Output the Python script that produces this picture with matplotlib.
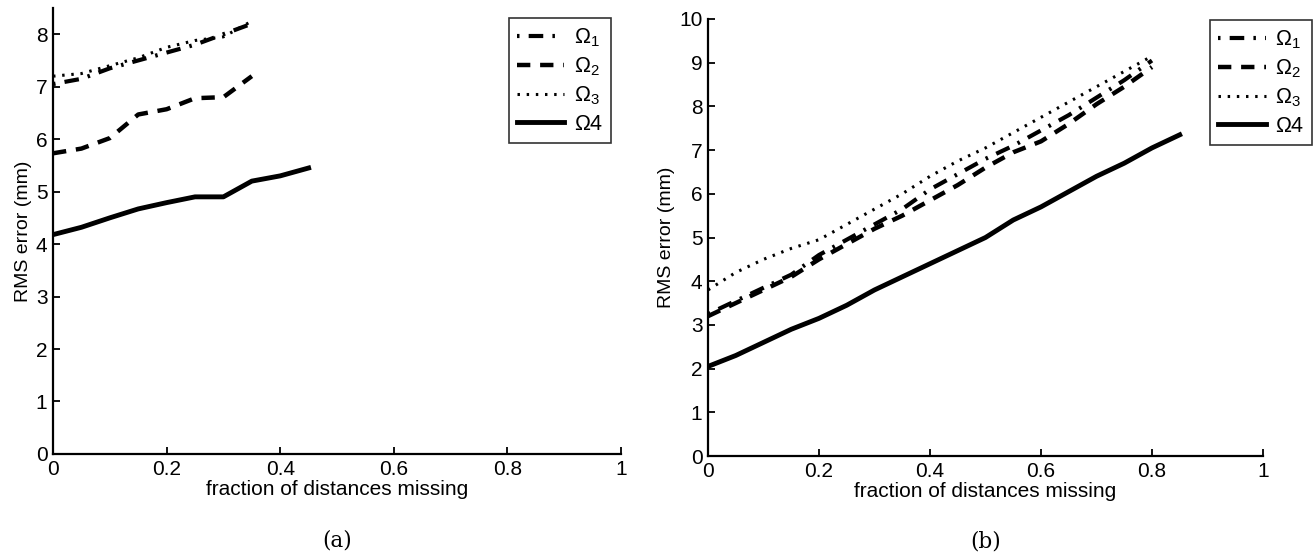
import matplotlib
matplotlib.use("Agg")
import matplotlib.pyplot as plt

plt.rcParams['font.family'] = ['Liberation Sans', 'DejaVu Sans']
plt.rcParams['mathtext.fontset'] = 'custom'
plt.rcParams['mathtext.rm'] = 'Liberation Sans'
plt.rcParams['mathtext.it'] = 'Liberation Sans'

# panel (a)
x_a_short = [0, 0.05, 0.1, 0.15, 0.2, 0.25, 0.3, 0.35]
x_a_long = [0, 0.05, 0.1, 0.15, 0.2, 0.25, 0.3, 0.35, 0.4, 0.45]
a_omega1 = [7.05, 7.15, 7.35, 7.5, 7.65, 7.8, 8.0, 8.2]
a_omega2 = [5.73, 5.82, 6.02, 6.47, 6.57, 6.78, 6.8, 7.2]
a_omega3 = [7.2, 7.25, 7.4, 7.55, 7.75, 7.88, 7.95, 8.25]
a_omega4 = [4.18, 4.32, 4.5, 4.67, 4.79, 4.9, 4.9, 5.2, 5.3, 5.45]

# panel (b)
x_b_short = [0, 0.05, 0.1, 0.15, 0.2, 0.25, 0.3, 0.35, 0.4, 0.45,
             0.5, 0.55, 0.6, 0.65, 0.7, 0.75, 0.8]
x_b_long = x_b_short + [0.85]
b_omega1 = [3.25, 3.55, 3.85, 4.15, 4.6, 4.95, 5.3, 5.65, 6.1, 6.45,
            6.8, 7.1, 7.45, 7.8, 8.2, 8.6, 9.05]
b_omega2 = [3.2, 3.5, 3.8, 4.1, 4.5, 4.85, 5.2, 5.5, 5.85, 6.2,
            6.6, 6.95, 7.2, 7.6, 8.05, 8.45, 8.9]
b_omega3 = [3.8, 4.2, 4.5, 4.75, 4.95, 5.3, 5.65, 6.0, 6.4, 6.75,
            7.05, 7.4, 7.75, 8.1, 8.45, 8.8, 9.15]
b_omega4 = [2.05, 2.3, 2.6, 2.9, 3.15, 3.45, 3.8, 4.1, 4.4, 4.7,
            5.0, 5.4, 5.7, 6.05, 6.4, 6.7, 7.05, 7.35]

labels = [r'$\Omega_1$', r'$\Omega_2$', r'$\Omega_3$', 'Ω4']
xticks = [0, 0.2, 0.4, 0.6, 0.8, 1]
xticklabels = ['0', '0.2', '0.4', '0.6', '0.8', '1']


def draw_panel(ax, xs, xl, o1, o2, o3, o4, ymax, caption, legend_anchor):
    ax.plot(xs, o1, color='black', lw=3, linestyle=(0, (0.6, 2.2, 3.5, 2.2)), label=labels[0])
    ax.plot(xs, o2, color='black', lw=3.2, linestyle=(0, (3, 2.2)), label=labels[1])
    ax.plot(xs, o3, color='black', lw=2.2, linestyle=(0, (0.8, 2.2)), label=labels[2])
    ax.plot(xl, o4, color='black', lw=3.5, linestyle='-', label=labels[3])

    ax.set_xlim(0, 1)
    ax.set_ylim(0, ymax)
    ax.set_xticks(xticks)
    ax.set_xticklabels(xticklabels)
    ax.set_yticks(range(0, int(ymax) + 1))
    ax.spines['top'].set_visible(False)
    ax.spines['right'].set_visible(False)
    ax.spines['left'].set_linewidth(1.6)
    ax.spines['bottom'].set_linewidth(1.6)
    ax.tick_params(direction='in', length=5, width=1.3, labelsize=15, pad=4)
    ax.set_xlabel('fraction of distances missing', fontsize=15, labelpad=1)
    ax.set_ylabel('RMS error (mm)', fontsize=14, labelpad=3)
    ax.text(0.5, -0.195, caption, transform=ax.transAxes, ha='center', va='center',
            fontsize=15.5, family='DejaVu Serif')

    leg = ax.legend(loc='upper right', bbox_to_anchor=legend_anchor, fontsize=15.5,
                    frameon=True, fancybox=False, handlelength=2.2,
                    handletextpad=0.45, labelspacing=0.3, borderpad=0.4,
                    borderaxespad=0)
    leg.get_frame().set_edgecolor('black')
    leg.get_frame().set_linewidth(1.2)


fig = plt.figure(figsize=(13.16, 5.57), dpi=100)
ax_a = fig.add_axes([0.0403, 0.185, 0.4316, 0.8007])
ax_b = fig.add_axes([0.538, 0.1813, 0.4217, 0.7846])

draw_panel(ax_a, x_a_short, x_a_long, a_omega1, a_omega2, a_omega3, a_omega4,
           8.5, '(a)', (0.982, 0.978))
draw_panel(ax_b, x_b_short, x_b_long, b_omega1, b_omega2, b_omega3, b_omega4,
           10, '(b)', (1.088, 0.998))

fig.savefig('out.png', dpi=100)
